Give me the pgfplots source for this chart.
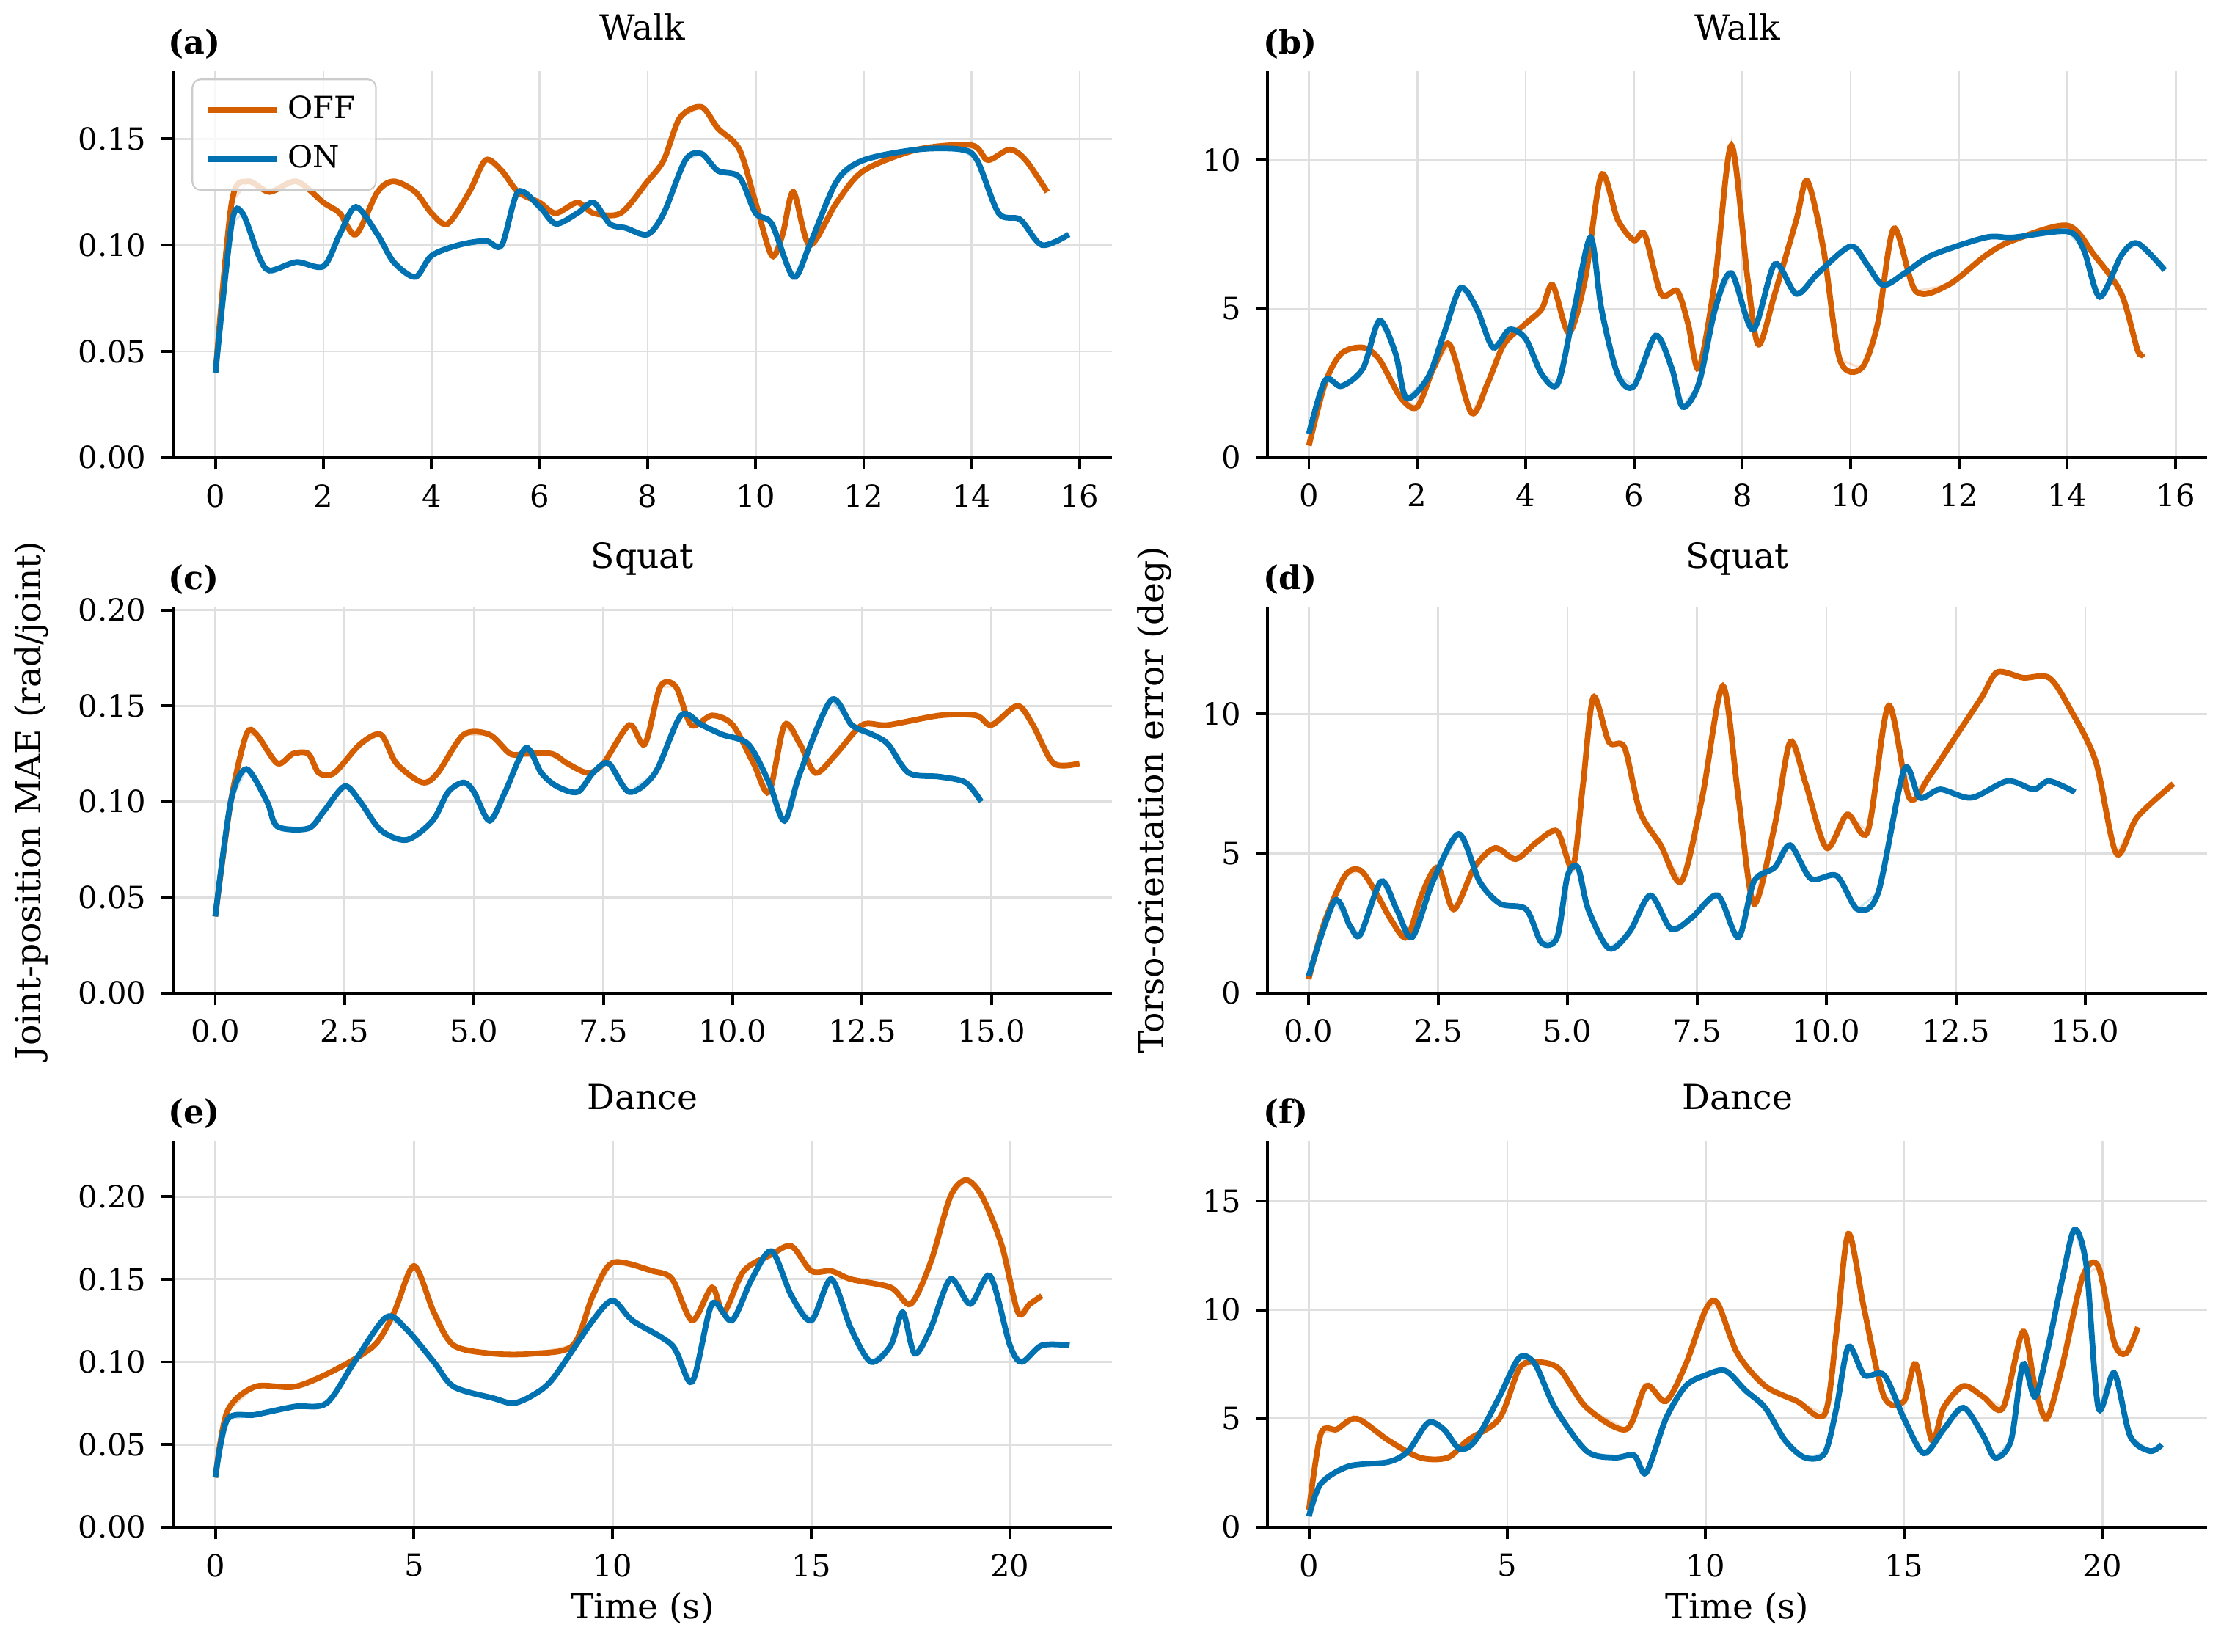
\documentclass[border=0pt]{standalone}
\usepackage{pgfplots}
\pgfplotsset{compat=1.18}
\usepackage{pgfplotstable}
\usepackage{fontspec}
\setmainfont{DejaVu Serif}
\definecolor{cOFF}{RGB}{213,94,0}
\definecolor{cON}{RGB}{0,114,178}
\pgfplotsset{
  panel/.style={scale only axis, width=230.5pt, height=94.9pt,
    axis lines=left, axis line style={-, line width=0.7pt},
    tick style={black, line width=0.7pt}, tick align=outside, major tick length=3pt,
    xtick pos=bottom, ytick pos=left,
    grid=major, grid style={gray!25, line width=0.5pt},
    ticklabel style={font=\fontsize{7.5}{9}\selectfont},
    /pgf/number format/assume math mode=true,
    title style={font=\fontsize{8.5}{10}\selectfont, yshift=-2pt},
    clip=false},
  off/.style={cOFF, line width=1.4pt, smooth, tension=0.5},
  on/.style={cON, line width=1.4pt, smooth, tension=0.5},
  offr/.style={cOFF, opacity=0.2, line width=0.5pt},
  onr/.style={cON, opacity=0.2, line width=0.5pt},
}
\newcommand{\plab}[1]{\node[font=\fontsize{8}{10}\selectfont\bfseries, anchor=west] at (rel axis cs:-0.02,1.07) {#1};}
\pgfplotstableread{
x y
0 0.04
0.3 0.12
0.6 0.13
1 0.125
1.5 0.13
2 0.12
2.3 0.115
2.6 0.105
3 0.125
3.3 0.13
3.7 0.125
4 0.115
4.3 0.11
4.7 0.125
5 0.14
5.3 0.135
5.6 0.125
6 0.12
6.3 0.115
6.7 0.12
7 0.115
7.5 0.115
8 0.13
8.3 0.14
8.6 0.16
9 0.165
9.3 0.155
9.7 0.145
10 0.12
10.3 0.095
10.5 0.105
10.7 0.125
11 0.10
11.5 0.12
12 0.135
13 0.145
14 0.147
14.3 0.14
14.7 0.145
15 0.14
15.4 0.125
}\aoff
\pgfplotstableread{
x y
0 0.04
0.3 0.11
0.5 0.115
0.8 0.095
1 0.088
1.5 0.092
2 0.09
2.3 0.105
2.6 0.118
3 0.105
3.3 0.092
3.7 0.085
4 0.095
4.5 0.10
5 0.102
5.3 0.10
5.6 0.125
6 0.118
6.3 0.11
6.7 0.115
7 0.12
7.3 0.11
7.6 0.108
8 0.105
8.3 0.115
8.7 0.14
9 0.143
9.3 0.135
9.7 0.132
10 0.115
10.3 0.11
10.7 0.085
11 0.1
11.5 0.13
12 0.14
13 0.145
13.8 0.145
14.1 0.14
14.5 0.115
14.9 0.112
15.3 0.10
15.8 0.105
}\aon
\pgfplotstableread{
x y
0 0.4
0.3 2.5
0.6 3.5
1 3.7
1.3 3.3
1.7 2.0
2 1.7
2.3 3
2.6 3.8
3 1.5
3.3 2.5
3.6 3.8
4 4.5
4.3 5.0
4.5 5.8
4.8 4.2
5.1 6.0
5.4 9.5
5.7 8.0
6 7.3
6.2 7.5
6.5 5.5
6.8 5.6
7 4.5
7.2 3.0
7.5 6.0
7.8 10.5
8.1 6.0
8.3 3.8
8.6 5.5
9 8.0
9.2 9.3
9.5 7.0
9.8 3.3
10.2 3.0
10.5 4.5
10.8 7.7
11.2 5.6
11.8 5.8
12.5 6.8
13 7.3
14 7.8
14.5 6.8
15 5.5
15.3 3.6
15.4 3.5
}\boff
\pgfplotstableread{
x y
0 0.8
0.3 2.6
0.6 2.4
1 3.0
1.3 4.6
1.6 3.5
1.8 2.0
2.2 2.7
2.5 4.2
2.8 5.7
3.1 5.0
3.4 3.7
3.7 4.3
4 4.0
4.3 2.8
4.6 2.5
4.9 5.0
5.2 7.4
5.4 5.0
5.7 2.8
6 2.4
6.4 4.1
6.7 3.0
6.9 1.7
7.2 2.5
7.5 5.0
7.8 6.2
8.2 4.3
8.6 6.5
9 5.5
9.4 6.2
10 7.1
10.3 6.5
10.6 5.8
11 6.2
11.5 6.8
12.5 7.4
13 7.4
14 7.6
14.3 7.0
14.6 5.4
15 6.8
15.3 7.2
15.8 6.3
}\bon
\pgfplotstableread{
x y
0 0.04
0.3 0.1
0.6 0.135
0.8 0.135
1.2 0.12
1.5 0.125
1.8 0.125
2 0.115
2.3 0.115
2.8 0.13
3.2 0.135
3.5 0.12
4 0.11
4.3 0.115
4.8 0.135
5.3 0.135
5.7 0.125
6 0.125
6.5 0.125
6.8 0.12
7.2 0.115
7.5 0.12
8 0.14
8.3 0.13
8.6 0.16
8.9 0.16
9.2 0.14
9.6 0.145
10 0.14
10.4 0.12
10.7 0.105
11 0.14
11.3 0.13
11.6 0.115
12 0.125
12.5 0.14
13 0.14
14 0.145
14.7 0.145
15 0.14
15.5 0.15
15.8 0.14
16.2 0.12
16.7 0.12
}\coff
\pgfplotstableread{
x y
0 0.04
0.3 0.1
0.6 0.117
1 0.1
1.2 0.087
1.8 0.086
2.1 0.095
2.5 0.108
2.8 0.1
3.2 0.085
3.7 0.08
4.2 0.09
4.5 0.105
4.8 0.11
5 0.105
5.3 0.09
5.6 0.105
6 0.128
6.3 0.115
6.6 0.108
7 0.105
7.3 0.115
7.6 0.12
8 0.105
8.5 0.115
9 0.145
9.4 0.14
9.8 0.135
10.3 0.13
10.7 0.11
11 0.09
11.3 0.115
11.9 0.153
12.3 0.14
12.7 0.135
13 0.13
13.4 0.115
14 0.113
14.5 0.11
14.8 0.1
}\con
\pgfplotstableread{
x y
0 0.5
0.3 2.5
0.7 4.2
1 4.4
1.3 3.6
1.6 2.6
1.9 2.0
2.2 3.6
2.5 4.5
2.8 3.0
3.2 4.5
3.6 5.2
4 4.8
4.4 5.4
4.8 5.8
5.1 4.5
5.3 7.5
5.5 10.6
5.8 9
6.1 8.8
6.4 6.5
6.8 5.3
7.2 4.0
7.6 7.0
8 11.0
8.3 7.0
8.6 3.2
9 6.0
9.3 9.0
9.6 7.5
10 5.2
10.4 6.4
10.8 5.8
11.2 10.3
11.6 7.0
12 7.8
12.5 9.2
13 10.6
13.3 11.5
13.8 11.3
14.3 11.3
14.7 10.2
15.2 8.3
15.6 5.0
16 6.3
16.7 7.5
}\doff
\pgfplotstableread{
x y
0 0.6
0.5 3.3
0.8 2.4
1 2.1
1.4 4.0
1.7 3.0
2 2.0
2.4 4.0
2.9 5.7
3.3 4.0
3.7 3.2
4.2 3.0
4.5 1.8
4.8 2.0
5 4.2
5.2 4.5
5.4 3.0
5.8 1.6
6.2 2.2
6.6 3.5
7 2.3
7.4 2.7
7.9 3.5
8.3 2.0
8.6 4.0
9 4.5
9.3 5.3
9.7 4.1
10.2 4.2
10.6 3.0
11 3.6
11.5 8.0
11.8 7.0
12.2 7.3
12.8 7.0
13.5 7.6
14 7.3
14.3 7.6
14.8 7.2
}\don
\pgfplotstableread{
x y
0 0.03
0.3 0.07
1 0.085
2 0.085
3 0.095
4 0.11
4.5 0.13
5 0.158
5.5 0.13
6 0.11
7 0.105
8 0.105
9 0.11
9.5 0.14
10 0.16
11 0.155
11.5 0.15
12 0.125
12.5 0.145
12.8 0.13
13.3 0.155
14 0.165
14.5 0.17
15 0.155
15.5 0.155
16 0.15
17 0.145
17.5 0.135
18 0.16
18.5 0.2
18.9 0.21
19.3 0.2
19.8 0.17
20.2 0.13
20.5 0.135
20.8 0.14
}\eoff
\pgfplotstableread{
x y
0 0.03
0.3 0.065
1 0.068
2 0.073
2.8 0.075
3.5 0.1
4.3 0.127
4.8 0.12
5.5 0.1
6 0.085
7 0.078
7.5 0.075
8 0.08
8.5 0.09
9.5 0.125
10 0.137
10.5 0.125
11.5 0.11
12 0.088
12.5 0.135
13 0.125
13.5 0.15
14 0.167
14.5 0.14
15 0.125
15.5 0.15
16 0.12
16.5 0.1
17 0.11
17.3 0.13
17.6 0.105
18 0.12
18.5 0.15
19 0.135
19.5 0.152
20 0.11
20.3 0.1
20.8 0.11
21.5 0.11
}\eon
\pgfplotstableread{
x y
0 0.8
0.3 4.3
0.7 4.5
1.2 5.0
2 4.0
2.8 3.2
3.5 3.2
4 4.0
4.8 5.0
5.3 7.3
5.7 7.6
6.3 7.3
7 5.5
8 4.5
8.5 6.5
9 5.8
9.5 7.5
10 10.0
10.3 10.3
10.8 8.0
11.5 6.5
12.3 5.8
13 5.2
13.3 9.0
13.6 13.5
14 10.0
14.5 6.0
15 5.8
15.3 7.5
15.7 4.0
16 5.5
16.5 6.5
17 6.0
17.5 5.5
18 9.0
18.3 6.5
18.6 5.0
19 7.5
19.5 11.5
19.9 12.0
20.3 8.5
20.6 8.0
20.9 9.2
}\foff
\pgfplotstableread{
x y
0 0.5
0.3 2.0
1 2.8
2 3.0
2.5 3.5
3 4.8
3.4 4.5
3.8 3.6
4.2 4.0
4.8 6.0
5.3 7.8
5.7 7.5
6.2 5.5
7 3.5
7.7 3.2
8.2 3.3
8.5 2.5
9 5.0
9.5 6.5
10 7.0
10.5 7.2
11 6.3
11.5 5.5
12 4.0
12.5 3.2
13 3.4
13.3 5.5
13.6 8.3
14 7.0
14.5 7.0
15 5.0
15.5 3.4
16 4.5
16.5 5.5
17 4.2
17.3 3.2
17.7 4.0
18 7.5
18.3 6.0
18.6 8.0
19 11.5
19.3 13.7
19.6 12.0
19.9 5.5
20.3 7.1
20.7 4.2
21.2 3.5
21.5 3.8
}\fon
\begin{document}
\begin{tikzpicture}
\useasboundingbox (0pt,0pt) rectangle (545.04pt,405.30pt);
% (a)
\begin{axis}[panel, at={(42.41pt,387.92pt)}, anchor=north west, title={Walk},
  xmin=-0.79, xmax=16.6, ymin=0, ymax=0.182, xtick={0,2,...,16},
  ytick={0,0.05,0.1,0.15}, yticklabel style={/pgf/number format/.cd,fixed,fixed zerofill,precision=2},
  legend style={at={(rel axis cs:0.02,0.98)}, anchor=north west, font=\fontsize{7.5}{9}\selectfont, draw=gray!40, rounded corners=2pt, fill=white, fill opacity=0.8, text opacity=1, row sep=1pt},
  legend cell align=left]
\addplot[offr, forget plot] table {\aoff};
\addplot[onr, forget plot] table {\aon};
\addplot[off] table {\aoff}; \addlegendentry{OFF}
\addplot[on] table {\aon}; \addlegendentry{ON}
\plab{(a)}
\end{axis}
% (b)
\begin{axis}[panel, at={(311.10pt,387.92pt)}, anchor=north west, title={Walk},
  xmin=-0.76, xmax=16.58, ymin=0, ymax=13.0, xtick={0,2,...,16}, ytick={0,5,10}]
\addplot[offr] table {\boff};
\addplot[onr] table {\bon};
\addplot[off] table {\boff};
\addplot[on] table {\bon};
\plab{(b)}
\end{axis}
% (c)
\begin{axis}[panel, at={(42.41pt,256.53pt)}, anchor=north west, title={Squat},
  xmin=-0.82, xmax=17.33, ymin=0, ymax=0.202, xtick={0,2.5,...,15},
  xticklabel style={/pgf/number format/.cd,fixed,fixed zerofill,precision=1},
  ytick={0,0.05,0.1,0.15,0.2}, yticklabel style={/pgf/number format/.cd,fixed,fixed zerofill,precision=2}]
\addplot[offr] table {\coff};
\addplot[onr] table {\con};
\addplot[off] table {\coff};
\addplot[on] table {\con};
\plab{(c)}
\end{axis}
% (d)
\begin{axis}[panel, at={(311.10pt,256.53pt)}, anchor=north west, title={Squat},
  xmin=-0.79, xmax=17.35, ymin=0, ymax=13.86, xtick={0,2.5,...,15},
  xticklabel style={/pgf/number format/.cd,fixed,fixed zerofill,precision=1}, ytick={0,5,10}]
\addplot[offr] table {\doff};
\addplot[onr] table {\don};
\addplot[off] table {\doff};
\addplot[on] table {\don};
\plab{(d)}
\end{axis}
% (e)
\begin{axis}[panel, at={(42.41pt,125.48pt)}, anchor=north west, title={Dance},
  xmin=-1.07, xmax=22.57, ymin=0, ymax=0.234, xtick={0,5,...,20},
  ytick={0,0.05,0.1,0.15,0.2}, yticklabel style={/pgf/number format/.cd,fixed,fixed zerofill,precision=2},
  xlabel={Time (s)}, xlabel style={font=\fontsize{8.5}{10}\selectfont, yshift=3pt}]
\addplot[offr] table {\eoff};
\addplot[onr] table {\eon};
\addplot[off] table {\eoff};
\addplot[on] table {\eon};
\plab{(e)}
\end{axis}
% (f)
\begin{axis}[panel, at={(311.10pt,125.48pt)}, anchor=north west, title={Dance},
  xmin=-1.04, xmax=22.64, ymin=0, ymax=17.8, xtick={0,5,...,20}, ytick={0,5,10,15},
  xlabel={Time (s)}, xlabel style={font=\fontsize{8.5}{10}\selectfont, yshift=3pt}]
\addplot[offr] table {\foff};
\addplot[onr] table {\fon};
\addplot[off] table {\foff};
\addplot[on] table {\fon};
\plab{(f)}
\end{axis}
\node[rotate=90, font=\fontsize{8.5}{10}\selectfont] at (7.65pt,208.9pt) {Joint-position MAE (rad/joint)};
\node[rotate=90, font=\fontsize{8.5}{10}\selectfont] at (283.3pt,208.9pt) {Torso-orientation error (deg)};
\end{tikzpicture}
\end{document}
